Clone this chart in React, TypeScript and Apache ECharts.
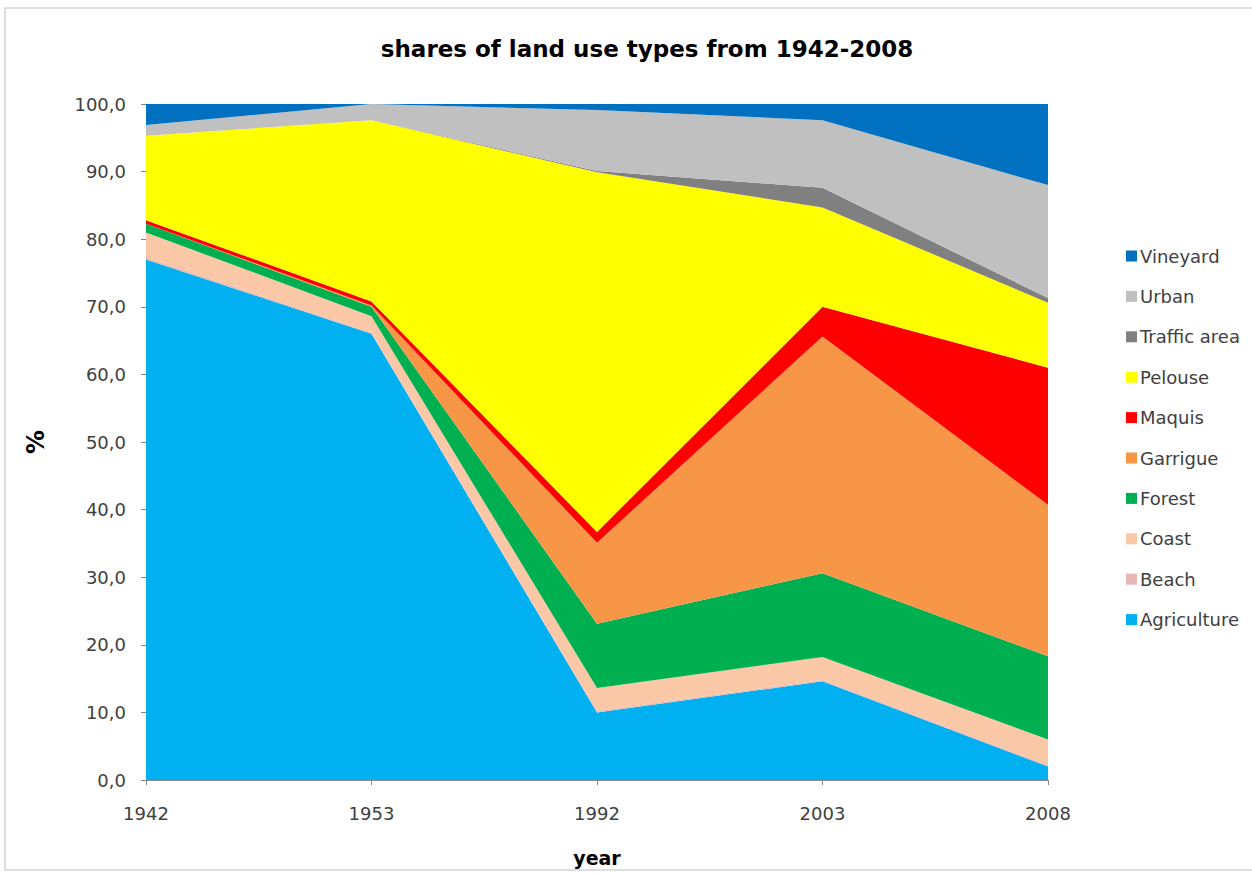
import React, { useEffect, useRef } from "react";
import * as echarts from "echarts";

const years = ["1942", "1953", "1992", "2003", "2008"];

const agriculture = [77.0, 66.0, 10.0, 14.6, 2.0];
const beach = [0.3, 0.2, 0.2, 0.2, 0.2];
const coast = [3.7, 2.4, 3.4, 3.4, 3.8];
const forest = [1.3, 1.4, 9.5, 12.4, 12.3];
const garrigue = [0.0, 0.2, 12.0, 35.0, 22.4];
const maquis = [0.5, 0.6, 1.6, 4.4, 20.3];
const pelouse = [12.5, 26.8, 53.2, 14.7, 9.6];
const trafficArea = [0.0, 0.0, 0.2, 2.9, 0.7];
const urban = [1.6, 2.4, 9.0, 10.0, 16.7];
const vineyard = [3.1, 0.0, 0.9, 2.4, 12.3];

const seriesNames = [
  "Agriculture",
  "Beach",
  "Coast",
  "Forest",
  "Garrigue",
  "Maquis",
  "Pelouse",
  "Traffic area",
  "Urban",
  "Vineyard",
];
const seriesValues = [
  agriculture,
  beach,
  coast,
  forest,
  garrigue,
  maquis,
  pelouse,
  trafficArea,
  urban,
  vineyard,
];
const seriesColors = [
  "#00B0F0",
  "#E6B9B8",
  "#FAC8A6",
  "#00B050",
  "#F79646",
  "#FF0000",
  "#FFFF00",
  "#808080",
  "#C0C0C0",
  "#0070C0",
];

const FONT = "'DejaVu Sans', Verdana, sans-serif";

export default function App() {
  const ref = useRef<HTMLDivElement>(null);

  useEffect(() => {
    document.body.style.margin = "0";
    if (!ref.current) return;
    const chart = echarts.init(ref.current, undefined, { renderer: "svg" });
    chart.setOption({
      animation: false,
      backgroundColor: "#ffffff",
      title: {
        text: "shares of land use types from 1942-2008",
        left: 642,
        top: 32,
        textAlign: "center",
        textStyle: { fontFamily: FONT, fontSize: 23, fontWeight: "bold", color: "#000000" },
      },
      graphic: [
        {
          type: "rect",
          shape: { x: 5, y: 8, width: 1250, height: 862 },
          style: { fill: "none", stroke: "#d4d4d4", lineWidth: 1.5 },
          silent: true,
        },
      ],
      legend: {
        orient: "vertical",
        left: 1121,
        top: 242,
        itemWidth: 11,
        itemHeight: 11,
        itemGap: 22.4,
        icon: "rect",
        data: [...seriesNames].reverse(),
        textStyle: { fontFamily: FONT, fontSize: 18, color: "#404040", padding: [0, 0, 0, -2] },
      },
      grid: { left: 146, right: 204, top: 104, bottom: 96 },
      xAxis: {
        type: "category",
        data: years,
        boundaryGap: false,
        name: "year",
        nameLocation: "middle",
        nameGap: 68,
        nameTextStyle: { fontFamily: FONT, fontSize: 19, fontWeight: "bold", color: "#000000" },
        axisLine: { show: true, lineStyle: { color: "#868686" } },
        axisTick: { show: true, inside: false, length: 5, alignWithLabel: true, lineStyle: { color: "#868686" } },
        axisLabel: { fontFamily: FONT, fontSize: 18, color: "#404040", margin: 24 },
        splitLine: { show: false },
      },
      yAxis: {
        type: "value",
        min: 0,
        max: 100,
        interval: 10,
        name: "%",
        nameLocation: "middle",
        nameRotate: 90,
        nameGap: 98,
        nameTextStyle: { fontFamily: FONT, fontSize: 24, fontWeight: "bold", color: "#000000" },
        axisLine: { show: true, lineStyle: { color: "#868686" } },
        axisTick: { show: true, length: 5, lineStyle: { color: "#868686" } },
        axisLabel: {
          fontFamily: FONT,
          fontSize: 18,
          color: "#404040",
          margin: 20,
          formatter: (v: number) => v.toFixed(1).replace(".", ","),
        },
        splitLine: { show: false },
      },
      series: seriesNames.map((name, i) => ({
        name,
        type: "line",
        stack: "total",
        data: seriesValues[i],
        symbol: "none",
        showSymbol: false,
        lineStyle: { width: 0, color: seriesColors[i] },
        itemStyle: { color: seriesColors[i] },
        areaStyle: { color: seriesColors[i], opacity: 1 },
        z: 2,
      })),
    });
    return () => chart.dispose();
  }, []);

  return <div ref={ref} style={{ width: 1252, height: 876 }} />;
}
